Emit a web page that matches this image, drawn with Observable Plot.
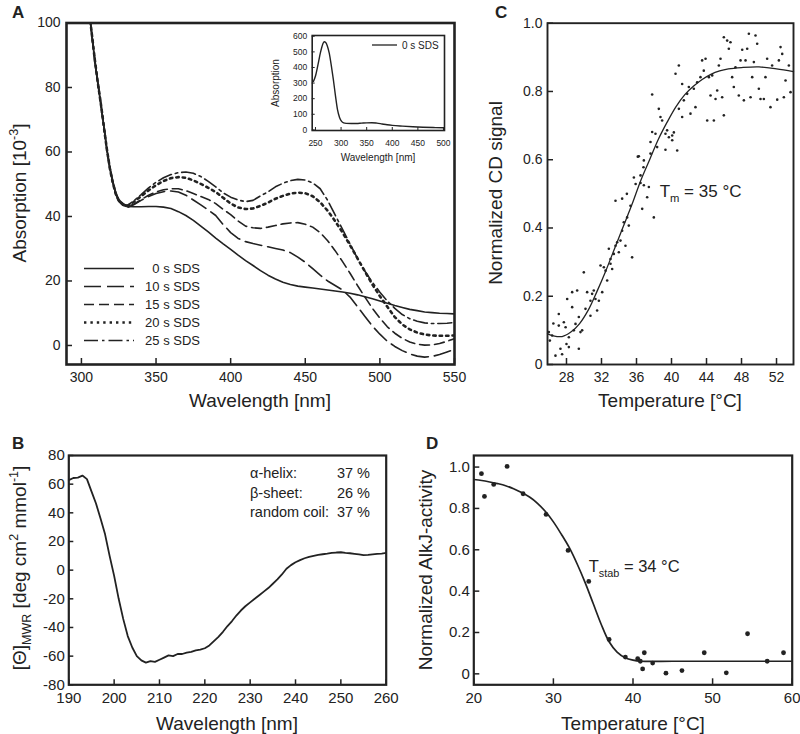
<!DOCTYPE html>
<html><head><meta charset="utf-8">
<script src="https://cdn.jsdelivr.net/npm/d3@7"></script>
<script src="https://cdn.jsdelivr.net/npm/@observablehq/plot@0.6"></script>
<style>
html,body{margin:0;padding:0;background:#fff;}
#wrap{position:relative;width:800px;height:734px;overflow:hidden;background:#fff;}
#wrap svg{position:absolute;left:0;top:0;}
</style></head><body><div id="wrap"></div>
<script>
// ---------------- Panel A: absorption spectra ----------------
const aWavelength = [305,307,309,311,313,315,317,319,321,323,325,328,331,335,
  340,345,350,355,360,365,370,375,380,385,390,395,400,405,410,415,420,425,430,435,
  440,445,450,455,460,465,470,475,480,485,490,495,500,505,510,515,520,525,530,535,540,545,550];
const aSeriesNames = ["0 s SDS","10 s SDS","15 s SDS","20 s SDS","25 s SDS"];
const aSDS0 = [104,96,88,81,75,68,61,55.5,51,47.5,45.3,43.8,43.1,43.0,
  43,43.1,43.1,42.9,42.5,41.5,40.3,38.8,37,35.2,33.3,31.5,29.8,28,26.3,24.8,23.2,21.8,20.6,19.6,
  18.9,18.4,18.1,17.8,17.5,17.2,16.9,16.6,16.2,15.7,15.1,14.5,13.8,13.1,12.4,11.8,11.2,10.8,10.4,10.2,10,9.9,9.8];
const aSDS10 = [104.5,96.5,88.5,81.5,75,68,61,55,50.5,47,44.8,43.3,42.8,43.6,
  45,46.2,47.1,47.7,47.9,47.6,46.6,45.1,43.6,42,40.3,37.5,35,33.2,32.2,31.6,31.1,30.6,30.1,29.6,
  28.8,27.4,25.8,23.8,21.8,20,18.6,17.2,15,12,9,6,3.5,1.3,-0.3,-1.6,-2.6,-3.3,-3.6,-3.4,-2.8,-2,-1.2];
const aSDS15 = [104.5,96.5,88.5,81.5,75,68,61,55,50.5,47,44.7,43.4,43,43.8,
  45.2,46.6,47.6,48.3,48.6,48.6,48,47.1,46.2,45.3,44,42.2,40.6,38.6,37,36.5,36.3,36.7,37.2,37.7,
  38,38.1,37.6,36.7,35,32.5,29.4,26,22.4,18.6,15,11.5,8.5,5.8,3.8,2.2,1.1,0.4,0.1,0.2,0.6,1.3,2.1];
const aSDS20 = [104.5,96.5,88.5,81.5,75,68,61,55,50.5,47,44.9,43.8,43.3,44.5,
  46.3,48.1,49.7,51,51.9,52.2,52,51.2,50.1,48.9,47.6,45.8,44,42.8,42.3,42.5,43.3,44.3,45.5,46.4,
  47.1,47.4,47.2,46.3,44.4,41.8,38.6,35,31.1,27,22.9,18.9,15.3,12,8.8,6.5,5,4,3.4,3.1,3,3,3.1];
const aSDS25 = [104.5,96.5,88.5,81.5,75,68,61,55,50.5,47,44.9,43.8,43.5,44.8,
  46.8,48.9,50.6,52,53,53.6,53.8,53.4,52.4,50.9,49.2,47.3,46,45.1,44.6,45,46.4,47.6,49.2,50.3,
  51.1,51.5,51.3,50.4,48.6,45,40.5,36,31.5,27,23,19.6,16.5,13.8,11.5,9.6,8.3,7.5,7,6.8,6.8,6.9,7.1];
const aXTicks = [300,350,400,450,500,550];
const aYTicks = [0,20,40,60,80,100];

// inset of panel A
const insetWavelength = [246,250,255,260,264,267,270,273,277,281,285,289,293,297,301,305,310,320,330,340,350,360,370,380,390,400,420,440,460,480,500];
const insetAbsorption = [310,345,420,500,548,565,560,540,490,410,320,220,130,80,55,45,42,41,41,43,45,46,43,38,33,29,24,20,17,15,14];
const insetXTicks = [250,300,350,400,450,500];
const insetYTicks = [0,100,200,300,400,500,600];

// ---------------- Panel B: CD spectrum ----------------
const bWavelength = d3.range(190, 261);
const bEllipticity = [62.8,64.3,64.6,66,63.5,55,46.5,36,25,10,-4,-20,-34,-46,-54,-60,-63,-64.5,-63.5,-64,
  -62.5,-61,-59.5,-60,-58.5,-58.5,-57.5,-57,-56,-55.5,-54.5,-52.5,-49.5,-46.5,-43,-39,-35.5,-31.5,-28,-25,
  -22.5,-20,-17.5,-15,-12.5,-9.5,-6.5,-3,1,3.5,5.5,7,8.3,9.3,10,10.6,11.1,11.5,12,12.3,
  12.5,12,11.8,11.4,11,10.5,10.6,11,11.3,11.6,12];
const bXTicks = [190,200,210,220,230,240,250,260];
const bYTicks = [-80,-60,-40,-20,0,20,40,60,80];
const bStructure = ["\u03b1-helix:", "\u03b2-sheet:", "random coil:"];
const bPercent = ["37 %", "26 %", "37 %"];

// ---------------- Panel C: thermal CD melt ----------------
const cTemp = [25.98,26.1,26.36,26.5,26.74,27.12,27.31,27.12,27.5,27.7,27.9,28.0,28.08,28.27,28.27,28.65,28.65,28.84,29.03,29.22,
  29.41,29.41,29.6,29.79,29.98,30.17,30.36,30.74,30.74,30.93,31.12,31.31,31.5,31.7,31.89,32.08,32.27,32.46,32.65,32.84,
  33.03,33.03,33.22,33.41,33.6,33.79,33.98,34.17,34.36,34.55,34.74,34.93,35.12,35.31,35.5,33.6,34.36,34.9,35.7,35.9,
  36.15,36.46,36.8,36.65,37.98,36.27,36.46,36.84,37.22,36.84,37.6,37.41,37.79,37.79,38.17,38.36,38.55,38.74,38.93,39.31,
  39.31,39.5,39.7,40.08,40.08,40.27,40.65,37.6,40.46,40.84,41.22,40.84,41.22,41.41,41.79,41.98,42.17,42.55,42.74,42.93,
  43.31,43.5,43.69,43.89,44.08,44.27,44.46,44.65,44.84,45.03,45.22,45.41,45.6,45.79,45.98,45.98,46.36,46.55,46.74,46.93,
  47.12,47.31,47.69,47.89,48.08,48.27,48.46,48.65,48.84,49.03,49.22,49.41,49.6,49.79,49.98,50.17,50.55,50.74,50.93,51.31,
  51.5,52.08,52.27,52.46,52.65,52.84,53.03,53.41,53.6];
const cSignal = [0.095,0.07,0.085,0.12,0.026,0.114,0.046,0.148,0.03,0.124,0.109,0.06,0.192,0.08,0.051,0.212,0.168,0.1,0.119,0.217,
  0.139,0.046,0.095,0.1,0.27,0.163,0.212,0.143,0.187,0.207,0.217,0.192,0.158,0.187,0.29,0.212,0.285,0.275,0.246,0.339,
  0.295,0.309,0.28,0.324,0.348,0.358,0.329,0.363,0.392,0.417,0.348,0.431,0.407,0.465,0.314,0.48,0.486,0.5,0.548,0.529,
  0.609,0.532,0.578,0.456,0.431,0.61,0.554,0.525,0.49,0.598,0.618,0.52,0.681,0.791,0.676,0.637,0.749,0.725,0.715,0.676,
  0.629,0.686,0.666,0.671,0.657,0.68,0.627,0.652,0.852,0.876,0.822,0.749,0.725,0.774,0.793,0.813,0.735,0.808,0.754,0.827,
  0.842,0.891,0.861,0.896,0.715,0.842,0.788,0.847,0.715,0.778,0.803,0.876,0.896,0.783,0.73,0.959,0.949,0.925,0.944,0.842,
  0.813,0.871,0.788,0.891,0.922,0.774,0.891,0.925,0.969,0.783,0.842,0.886,0.964,0.94,0.808,0.778,0.778,0.842,0.896,0.754,
  0.876,0.776,0.891,0.93,0.91,0.783,0.832,0.876,0.798];
const cFitTemp = [25.83,26.5,27.5,28.5,29.5,30.5,31.5,32.5,33.5,34.5,35.5,36.5,37.5,38.5,39.5,40.5,41.5,42.5,43.5,44.5,45.5,46.5,48,50,52,53.94];
const cFitSignal = [0.09,0.084,0.082,0.095,0.12,0.16,0.215,0.275,0.34,0.405,0.47,0.54,0.6,0.66,0.71,0.755,0.79,0.815,0.835,0.85,0.86,0.866,0.87,0.872,0.866,0.858];
const cXTicks = [28,32,36,40,44,48,52];
const cYTicks = [0,0.2,0.4,0.6,0.8,1.0];

// ---------------- Panel D: residual activity ----------------
const dTemp = [20.96,21.34,22.5,24.18,26.19,29.08,31.84,34.44,37,39.04,40.59,40.92,41.21,41.42,42.47,44.14,46.15,48.95,51.72,54.39,56.86,58.91];
const dActivity = [0.968,0.858,0.916,1.003,0.871,0.771,0.597,0.447,0.166,0.081,0.073,0.061,0.024,0.102,0.052,0.003,0.016,0.102,0.005,0.194,0.061,0.102];
const dFitTemp = [20,21,22,23,24,25,26,27,28,29,30,31,32,33,34,35,36,37,38,39,40,41,45,50,55,60];
const dFitActivity = [0.94,0.935,0.928,0.92,0.91,0.895,0.877,0.855,0.825,0.785,0.735,0.675,0.61,0.53,0.44,0.34,0.24,0.155,0.105,0.078,0.066,0.061,0.061,0.061,0.061,0.061];
const dXTicks = [20,30,40,50,60];
const dYTicks = [0,0.2,0.4,0.6,0.8,1.0];

// ---------------- rendering ----------------
const FONT = "'Liberation Sans', Arial, Helvetica, sans-serif";
const INK = "#222";
const W = 800, H = 734;
const baseStyle = {background: "none", overflow: "visible", fontFamily: FONT, color: INK};
const dec1 = d => d === 0 ? "0" : d.toFixed(1);
const plain = d => String(d);

function makePanel(o) {
  const [L, T, R, B] = o.box;
  const pw = R - L, ph = B - T;
  const marks = [
    ...o.marks,
    Plot.tickX(o.xTicks, {x: d => d, insetTop: ph - o.tick, stroke: INK, strokeWidth: o.tickW}),
    Plot.tickY(o.yTicks, {y: d => d, insetRight: pw - o.tick, stroke: INK, strokeWidth: o.tickW}),
    Plot.axisX({ticks: o.xTicks, tickSize: 0, tickPadding: o.padX, tickFormat: o.xFmt, fontSize: o.fs, color: INK, label: null}),
    Plot.axisY({ticks: o.yTicks, tickSize: 0, tickPadding: o.padY, tickFormat: o.yFmt, fontSize: o.fs, color: INK, label: null}),
    Plot.frame({stroke: INK, strokeWidth: o.frameW})
  ];
  return Plot.plot({
    width: W, height: H,
    marginLeft: L, marginRight: W - R, marginTop: T, marginBottom: H - B,
    x: {domain: o.xDomain}, y: {domain: o.yDomain},
    style: baseStyle, marks
  });
}

function rich(sel, x, y, parts, size, {anchor = "start", rotate = false, weight = "normal"} = {}) {
  const t = sel.append("text").attr("font-family", FONT).attr("font-size", size)
    .attr("fill", INK).attr("text-anchor", anchor).attr("font-weight", weight);
  if (rotate) t.attr("transform", `translate(${x},${y}) rotate(-90)`);
  else t.attr("x", x).attr("y", y);
  let shift = 0;
  for (const p of parts) {
    const s = t.append("tspan").text(p.t);
    const target = p.sup ? -0.42 * size : p.sub ? 0.28 * size : 0;
    if (target !== shift) s.attr("dy", target - shift);
    shift = target;
    if (p.sup || p.sub) s.attr("font-size", size * 0.66);
  }
  return t;
}

const wrap = document.getElementById("wrap");
const aDash = [null, "17,6", "10,5", "2.4,4", "14,4,2.5,4"];
const aWidth = [1.6, 1.6, 1.6, 2.6, 1.6];
const aSeries = [aSDS0, aSDS10, aSDS15, aSDS20, aSDS25];

// Panel A
const plotA = makePanel({
  box: [66, 22.5, 454, 364], xDomain: [290, 550], yDomain: [-5.9, 100],
  xTicks: aXTicks, yTicks: aYTicks, xFmt: plain, yFmt: plain, fs: 14, padX: 8, padY: 6,
  tick: 6, tickW: 1.5, frameW: 2.6,
  marks: aSeries.map((s, i) => Plot.line(s, {x: aWavelength, y: d => d, stroke: INK,
    strokeWidth: aWidth[i], strokeDasharray: aDash[i], clip: true}))
});
wrap.appendChild(plotA);
{
  const g = d3.select(plotA);
  rich(g, 26, 193, [{t: "Absorption [10"}, {t: "-3", sup: true}, {t: "]"}], 19, {anchor: "middle", rotate: true});
  rich(g, 260, 407, [{t: "Wavelength [nm]"}], 19, {anchor: "middle"});
  rich(g, 12, 18, [{t: "A"}], 17, {weight: "bold"});
  aSeriesNames.forEach((name, i) => {
    const y = 268.5 + i * 18;
    g.append("line").attr("x1", 84).attr("x2", 134).attr("y1", y).attr("y2", y)
      .attr("stroke", INK).attr("stroke-width", aWidth[i]).attr("stroke-dasharray", aDash[i]);
    rich(g, 200, y + 4.5, [{t: name}], 13, {anchor: "end"});
  });
}

// Inset of A
const plotInset = makePanel({
  box: [311.7, 35, 444, 130], xDomain: [243.6, 502], yDomain: [-4, 605],
  xTicks: insetXTicks, yTicks: insetYTicks, xFmt: plain, yFmt: plain, fs: 8.5, padX: 9, padY: 5,
  tick: 3, tickW: 1, frameW: 1.6,
  marks: [Plot.line(insetAbsorption, {x: insetWavelength, y: d => d, stroke: INK, strokeWidth: 1.4, curve: "monotone-x"})]
});
wrap.appendChild(plotInset);
{
  const g = d3.select(plotInset);
  rich(g, 279, 83, [{t: "Absorption"}], 10, {anchor: "middle", rotate: true});
  rich(g, 378, 161, [{t: "Wavelength [nm]"}], 10, {anchor: "middle"});
  g.append("line").attr("x1", 372).attr("x2", 397).attr("y1", 45).attr("y2", 45)
    .attr("stroke", INK).attr("stroke-width", 1.3);
  rich(g, 402, 48.5, [{t: "0 s SDS"}], 10);
}

// Panel B
const plotB = makePanel({
  box: [68.3, 455, 385.7, 684.3], xDomain: [190, 260], yDomain: [-80, 80],
  xTicks: bXTicks, yTicks: bYTicks, xFmt: plain, yFmt: plain, fs: 15, padX: 8, padY: 4,
  tick: 5, tickW: 1.5, frameW: 2.2,
  marks: [Plot.line(bEllipticity, {x: bWavelength, y: d => d, stroke: INK, strokeWidth: 1.8})]
});
wrap.appendChild(plotB);
{
  const g = d3.select(plotB);
  rich(g, 26, 568, [{t: "[\u0398]"}, {t: "MWR", sub: true}, {t: " [deg cm"}, {t: "2", sup: true}, {t: " mmol"}, {t: "-1", sup: true}, {t: "]"}], 19, {anchor: "middle", rotate: true});
  rich(g, 227, 730, [{t: "Wavelength [nm]"}], 19, {anchor: "middle"});
  rich(g, 12, 449, [{t: "B"}], 17, {weight: "bold"});
  bStructure.forEach((s, i) => {
    rich(g, 250, 478 + i * 19.5, [{t: s}], 14.5);
    rich(g, 370, 478 + i * 19.5, [{t: bPercent[i]}], 14.5, {anchor: "end"});
  });
}

// Panel C
const plotC = makePanel({
  box: [547, 22.7, 793, 364], xDomain: [25.83, 53.94], yDomain: [0, 1.0],
  xTicks: cXTicks, yTicks: cYTicks, xFmt: plain, yFmt: dec1, fs: 14, padX: 8, padY: 5,
  tick: 6, tickW: 1.5, frameW: 1.9,
  marks: [
    Plot.dot(cSignal, {x: cTemp, y: d => d, r: 1.3, fill: INK, stroke: null, clip: true}),
    Plot.line(cFitSignal, {x: cFitTemp, y: d => d, stroke: INK, strokeWidth: 1.3, curve: "catmull-rom"})
  ]
});
wrap.appendChild(plotC);
{
  const g = d3.select(plotC);
  const sx = plotC.scale("x"), sy = plotC.scale("y");
  rich(g, 502, 193, [{t: "Normalized CD signal"}], 19, {anchor: "middle", rotate: true});
  rich(g, 670, 407, [{t: "Temperature [\u00b0C]"}], 19, {anchor: "middle"});
  rich(g, 495, 18, [{t: "C"}], 17, {weight: "bold"});
  rich(g, sx.apply(38.7), sy.apply(0.49), [{t: "T"}, {t: "m", sub: true}, {t: " = 35 \u00b0C"}], 17);
}

// Panel D
const plotD = makePanel({
  box: [473.3, 455, 791.7, 684.3], xDomain: [20, 60], yDomain: [-0.053, 1.056],
  xTicks: dXTicks, yTicks: dYTicks, xFmt: plain, yFmt: dec1, fs: 15, padX: 8, padY: 4,
  tick: 6, tickW: 1.5, frameW: 2.2,
  marks: [
    Plot.line(dFitActivity, {x: dFitTemp, y: d => d, stroke: INK, strokeWidth: 1.7, curve: "catmull-rom"}),
    Plot.dot(dActivity, {x: dTemp, y: d => d, r: 2.4, fill: INK, stroke: null})
  ]
});
wrap.appendChild(plotD);
{
  const g = d3.select(plotD);
  const sx = plotD.scale("x"), sy = plotD.scale("y");
  rich(g, 432, 570, [{t: "Normalized AlkJ-activity"}], 19, {anchor: "middle", rotate: true});
  rich(g, 633, 730, [{t: "Temperature [\u00b0C]"}], 19, {anchor: "middle"});
  rich(g, 426, 449, [{t: "D"}], 17, {weight: "bold"});
  rich(g, sx.apply(34.5), sy.apply(0.49), [{t: "T"}, {t: "stab", sub: true}, {t: " = 34 \u00b0C"}], 16.5);
}
</script></body></html>
